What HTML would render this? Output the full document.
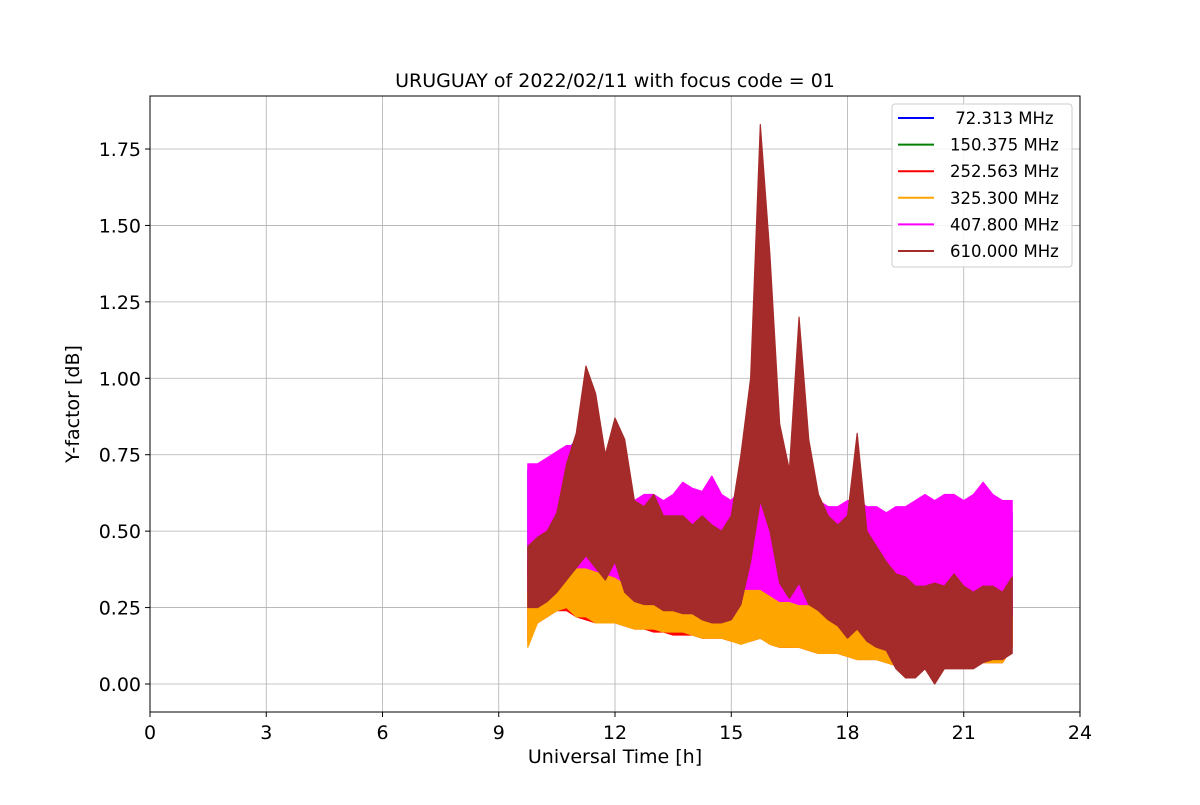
<!DOCTYPE html>
<html><head><meta charset="utf-8"><style>
body{margin:0;background:#fff;}
svg{font-family:"DejaVu Sans","Liberation Sans",sans-serif;}
</style></head><body>
<svg id="chart" width="1200" height="800"></svg>
<script>
const times=[9.75,10,10.25,10.5,10.75,11,11.25,11.5,11.75,12,12.25,12.5,12.75,13,13.25,13.5,13.75,14,14.25,14.5,14.75,15,15.25,15.5,15.75,16,16.25,16.5,16.75,17,17.25,17.5,17.75,18,18.25,18.5,18.75,19,19.25,19.5,19.75,20,20.25,20.5,20.75,21,21.25,21.5,21.75,22,22.25];
const orangeLow=[0.12,0.2,0.22,0.24,0.25,0.22,0.22,0.2,0.2,0.2,0.19,0.18,0.18,0.18,0.17,0.17,0.17,0.16,0.15,0.15,0.15,0.14,0.13,0.14,0.15,0.13,0.12,0.12,0.12,0.11,0.1,0.1,0.1,0.09,0.08,0.08,0.08,0.07,0.06,0.05,0.05,0.06,0.06,0.06,0.07,0.06,0.06,0.07,0.07,0.07,0.13];
const orangeHigh=[0.35,0.4,0.42,0.45,0.46,0.45,0.44,0.42,0.42,0.4,0.38,0.38,0.36,0.35,0.33,0.33,0.32,0.32,0.32,0.32,0.3,0.34,0.36,0.35,0.34,0.33,0.3,0.3,0.32,0.28,0.28,0.27,0.27,0.26,0.25,0.24,0.23,0.2,0.2,0.2,0.2,0.2,0.2,0.21,0.2,0.2,0.2,0.21,0.2,0.2,0.22];
const redLow=[0.14,0.2,0.22,0.24,0.24,0.22,0.21,0.2,0.2,0.2,0.19,0.18,0.18,0.17,0.17,0.16,0.16,0.16,0.15,0.15,0.15,0.14,0.14,0.14,0.15,0.13,0.12,0.12,0.12,0.11,0.1,0.1,0.1,0.09,0.08,0.08,0.08,0.07,0.06,0.05,0.05,0.06,0.06,0.06,0.07,0.06,0.06,0.07,0.07,0.07,0.12];
const redHigh=[0.4,0.45,0.46,0.48,0.5,0.5,0.48,0.46,0.46,0.45,0.42,0.4,0.4,0.38,0.36,0.36,0.35,0.35,0.35,0.35,0.33,0.36,0.4,0.4,0.4,0.38,0.35,0.34,0.35,0.32,0.32,0.3,0.3,0.3,0.3,0.28,0.27,0.25,0.24,0.24,0.24,0.25,0.25,0.25,0.25,0.24,0.24,0.25,0.25,0.25,0.28];
const blueLow=[0.3,0.32,0.33,0.35,0.36,0.36,0.37,0.36,0.35,0.34,0.32,0.31,0.31,0.31,0.3,0.3,0.3,0.3,0.3,0.3,0.3,0.3,0.3,0.3,0.3,0.28,0.26,0.26,0.25,0.25,0.25,0.24,0.24,0.22,0.21,0.21,0.2,0.2,0.2,0.2,0.2,0.2,0.2,0.2,0.2,0.2,0.2,0.2,0.2,0.2,0.22];
const blueHigh=[0.7,0.7,0.72,0.74,0.76,0.8,0.78,0.72,0.68,0.68,0.62,0.6,0.6,0.6,0.6,0.6,0.62,0.62,0.6,0.62,0.6,0.55,0.6,0.6,0.6,0.58,0.58,0.58,0.56,0.56,0.55,0.55,0.54,0.55,0.55,0.55,0.54,0.54,0.55,0.55,0.55,0.56,0.56,0.56,0.58,0.56,0.58,0.58,0.56,0.56,0.56];
const magentaLow=[0.3,0.32,0.34,0.36,0.37,0.38,0.38,0.37,0.36,0.35,0.33,0.32,0.32,0.32,0.31,0.31,0.31,0.31,0.31,0.3,0.3,0.3,0.31,0.31,0.31,0.29,0.27,0.27,0.26,0.26,0.26,0.25,0.25,0.23,0.22,0.22,0.21,0.21,0.21,0.21,0.21,0.21,0.21,0.21,0.21,0.21,0.21,0.21,0.21,0.21,0.23];
const magentaHigh=[0.72,0.72,0.74,0.76,0.78,0.78,0.77,0.72,0.7,0.68,0.62,0.6,0.62,0.62,0.6,0.62,0.66,0.64,0.63,0.68,0.62,0.6,0.64,0.64,0.64,0.62,0.62,0.6,0.6,0.6,0.6,0.58,0.58,0.6,0.6,0.58,0.58,0.56,0.58,0.58,0.6,0.62,0.6,0.62,0.62,0.6,0.62,0.66,0.62,0.6,0.6];
const brownLow=[0.25,0.25,0.27,0.3,0.34,0.38,0.42,0.38,0.34,0.4,0.3,0.27,0.26,0.26,0.24,0.24,0.23,0.23,0.21,0.2,0.2,0.21,0.26,0.4,0.6,0.5,0.33,0.28,0.33,0.26,0.24,0.21,0.19,0.15,0.18,0.14,0.12,0.11,0.05,0.02,0.02,0.05,0.0,0.05,0.05,0.05,0.05,0.07,0.08,0.08,0.1];
const brownHigh=[0.45,0.48,0.5,0.56,0.72,0.82,1.04,0.95,0.75,0.87,0.8,0.6,0.58,0.62,0.55,0.55,0.55,0.52,0.55,0.52,0.5,0.55,0.75,1.0,1.83,1.4,0.85,0.7,1.2,0.8,0.62,0.55,0.52,0.55,0.82,0.5,0.45,0.4,0.36,0.35,0.32,0.32,0.33,0.32,0.36,0.32,0.3,0.32,0.32,0.3,0.35];
const xTicks=[0,3,6,9,12,15,18,21,24];
const yTicks=[0,0.25,0.5,0.75,1.0,1.25,1.5,1.75];
const legendLabels=[" 72.313 MHz","150.375 MHz","252.563 MHz","325.300 MHz","407.800 MHz","610.000 MHz"];
const legendColors=["#0000ff","#008000","#ff0000","#ffa500","#ff00ff","#a52a2a"];

const NS="http://www.w3.org/2000/svg";
const svg=document.getElementById('chart');
const L=150,R=1080,T=96,B=712;
const X=v=>L+(v/24)*(R-L);
const Y=v=>684-v*(684-149)/1.75;
function mk(tag,attrs,parent){const e=document.createElementNS(NS,tag);for(const k in attrs)e.setAttribute(k,attrs[k]);(parent||svg).appendChild(e);return e;}

const grid=mk('g',{});


xTicks.forEach(t=>{
  const l=mk('line',{x1:X(t),x2:X(t),y1:T,y2:B,stroke:'#b0b0b0','stroke-width':0.8},grid);
  
  
  const tk=mk('line',{x1:X(t),x2:X(t),y1:B,y2:B+5,stroke:'#000'});
  
  
  const tx=mk('text',{x:X(t),y:B+27,'text-anchor':'middle','font-size':19});
  tx.textContent=t;
  
  
});
yTicks.forEach(t=>{
  const l=mk('line',{x1:L,x2:R,y1:Y(t),y2:Y(t),stroke:'#b0b0b0','stroke-width':0.8},grid);
  
  
  const tk=mk('line',{x1:L-5,x2:L,y1:Y(t),y2:Y(t),stroke:'#000'});
  
  
  const tx=mk('text',{x:L-9,y:Y(t)+7,'text-anchor':'end','font-size':19});
  tx.textContent=t.toFixed(2);
  
  
});

const seriesList=[[blueLow,blueHigh,'#0000ff','series-72mhz'],[redLow,redHigh,'#ff0000','series-252mhz'],[orangeLow,orangeHigh,'#ffa500','series-325mhz'],[magentaLow,magentaHigh,'#ff00ff','series-407mhz'],[brownLow,brownHigh,'#a52a2a','series-610mhz']];
seriesList.forEach(([lo,hi,c,n])=>{
  let pts=[];
  times.forEach((t,i)=>pts.push(X(t)+','+Y(hi[i])));
  for(let i=times.length-1;i>=0;i--)pts.push(X(times[i])+','+Y(lo[i]));
  const p=mk('polygon',{points:pts.join(' '),fill:c,stroke:c,'stroke-width':1.2,'stroke-linejoin':'round'});
  
  
});

const frame=mk('rect',{x:L,y:T,width:R-L,height:B-T,fill:'none',stroke:'#000','stroke-width':1});



const title=mk('text',{x:615,y:87,'text-anchor':'middle','font-size':19});
title.textContent='URUGUAY of 2022/02/11 with focus code = 01';


const xl=mk('text',{x:615,y:763,'text-anchor':'middle','font-size':19});
xl.textContent='Universal Time [h]';


const yl=mk('text',{x:0,y:0,'text-anchor':'middle','font-size':19,transform:'translate(79,404) rotate(-90)'});
yl.textContent='Y-factor [dB]';



const lg=mk('g',{});


const lr=mk('rect',{x:892,y:104,width:180,height:163,rx:3,fill:'#fff','fill-opacity':0.85,stroke:'#ccc'},lg);


legendLabels.forEach((lab,i)=>{
  const y=118+i*26.6;
  const ln=mk('line',{x1:898,x2:934,y1:y,y2:y,stroke:legendColors[i],'stroke-width':2},lg);
  
  
  const tx=mk('text',{x:950,y:y+6,'font-size':16.5},lg);
  tx.setAttribute('style','white-space:pre');
  tx.textContent=lab;
  
  
});
</script>
</body></html>
